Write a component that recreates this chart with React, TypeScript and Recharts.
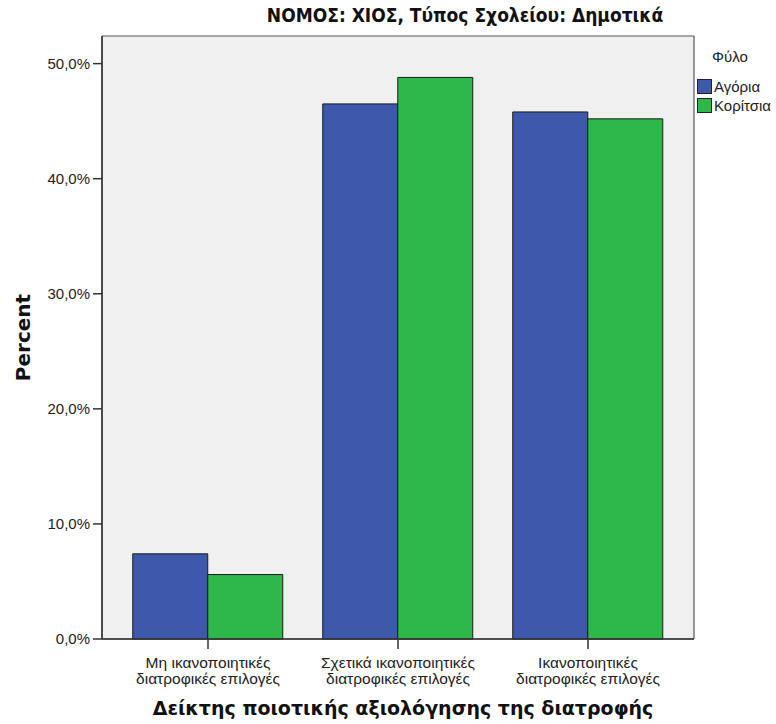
import React from 'react';
import { BarChart, Bar, XAxis, YAxis, CartesianGrid, Legend } from 'recharts';

const categories = [
  'Μη ικανοποιητικές\nδιατροφικές επιλογές',
  'Σχετικά ικανοποιητικές\nδιατροφικές επιλογές',
  'Ικανοποιητικές\nδιατροφικές επιλογές',
];
const boys = [7.4, 46.5, 45.8];
const girls = [5.6, 48.8, 45.2];
const yTicks = [0, 10, 20, 30, 40, 50];
const seriesNames = ['Αγόρια', 'Κορίτσια'];
const seriesColors = ['#3E58AC', '#2EB84A'];
const chartTitle = 'ΝΟΜΟΣ: ΧΙΟΣ, Τύπος Σχολείου: Δημοτικά';
const xTitle = 'Δείκτης ποιοτικής αξιολόγησης της διατροφής';
const yTitle = 'Percent';
const legendTitle = 'Φύλο';

const data = categories.map((c, i) => ({ category: c, boys: boys[i], girls: girls[i] }));

const SANS = "'Liberation Sans', Arial, sans-serif";
const BOLD = "'DejaVu Sans', Verdana, sans-serif";
const NARROW = "'Liberation Sans Narrow', 'DejaVu Sans Condensed', Arial, sans-serif";

const XTick = (props: any) => {
  const { x, y, payload } = props;
  const lines = String(payload.value).split('\n');
  return (
    <g transform={`translate(${x},${y})`}>
      <text x={0} y={0} textAnchor="middle" fill="#222" fontSize={15.5} fontFamily={SANS}>
        {lines.map((l: string, i: number) => (
          <tspan key={i} x={0} y={16.5 + i * 16}>
            {l}
          </tspan>
        ))}
      </text>
    </g>
  );
};

const LegendContent = (props: any) => {
  const payload = props.payload || [];
  return (
    <svg width={79} height={80} style={{ display: 'block' }}>
      <text x={33} y={20} textAnchor="middle" fill="#222" fontSize={15} fontFamily={SANS}>
        {legendTitle}
      </text>
      {payload.map((p: any, i: number) => (
        <g key={i}>
          <rect x={0.5} y={37.5 + i * 19} width={14} height={14} fill={p.color} stroke="#222" strokeWidth={1} />
          <text x={17} y={50 + i * 19} fill="#222" fontSize={15} fontFamily={SANS}>
            {p.value}
          </text>
        </g>
      ))}
    </svg>
  );
};

export default function App() {
  return (
    <div style={{ position: 'absolute', left: 0, top: 0, width: 776, height: 724, background: '#fff' }}>
      <div
        style={{
          position: 'absolute',
          left: 200,
          top: 4,
          width: 530,
          textAlign: 'center',
          fontFamily: NARROW,
          fontWeight: 'bold',
          fontSize: 19,
          color: '#111',
          whiteSpace: 'nowrap',
        }}
      >
        {chartTitle}
      </div>
      <BarChart
        width={776}
        height={724}
        data={data}
        margin={{ top: 36, right: 82, left: 0, bottom: 0 }}
        barCategoryGap="10.4%"
        barGap={0}
      >
        <CartesianGrid
          fill="#F0F0F0"
          stroke="#555"
          strokeWidth={1.2}
          horizontalCoordinatesGenerator={(p: any) => [p.offset.top, p.offset.top + p.offset.height]}
          verticalCoordinatesGenerator={(p: any) => [p.offset.left, p.offset.left + p.offset.width]}
        />
        <XAxis
          dataKey="category"
          height={85}
          padding={{ left: 11, right: 11 }}
          tickSize={10}
          tickMargin={2}
          tick={<XTick />}
          axisLine={{ stroke: '#333', strokeWidth: 1.5 }}
          tickLine={{ stroke: '#333', strokeWidth: 1.5 }}
          interval={0}
          label={({ viewBox }: any) => (
            <text
              x={viewBox.x + viewBox.width / 2 + 5}
              y={viewBox.y + 76}
              textAnchor="middle"
              fontFamily={BOLD}
              fontWeight="bold"
              fontSize={19}
              fill="#111"
            >
              {xTitle}
            </text>
          )}
        />
        <YAxis
          width={102}
          domain={[0, 52.4]}
          ticks={yTicks}
          tickFormatter={(v: number) => `${v.toFixed(1).replace('.', ',')}%`}
          tick={{ fill: '#222', fontSize: 15, fontFamily: SANS }}
          tickSize={9}
          tickMargin={3}
          axisLine={{ stroke: '#333', strokeWidth: 1.5 }}
          tickLine={{ stroke: '#333', strokeWidth: 1.5 }}
          label={({ viewBox }: any) => {
            const cx = 30;
            const cy = viewBox.y + viewBox.height / 2;
            return (
              <text
                x={cx}
                y={cy}
                transform={`rotate(-90, ${cx}, ${cy})`}
                textAnchor="middle"
                fontFamily={BOLD}
                fontWeight="bold"
                fontSize={20}
                fill="#111"
              >
                {yTitle}
              </text>
            );
          }}
        />
        <Legend
          layout="horizontal"
          align="center"
          verticalAlign="middle"
          content={<LegendContent />}
          wrapperStyle={{ position: 'absolute', left: 697, top: 42, width: 79, height: 80 }}
        />
        <Bar dataKey="boys" name={seriesNames[0]} fill={seriesColors[0]} stroke="#1a1a1a" strokeWidth={1} isAnimationActive={false} />
        <Bar dataKey="girls" name={seriesNames[1]} fill={seriesColors[1]} stroke="#1a1a1a" strokeWidth={1} isAnimationActive={false} />
      </BarChart>
    </div>
  );
}
